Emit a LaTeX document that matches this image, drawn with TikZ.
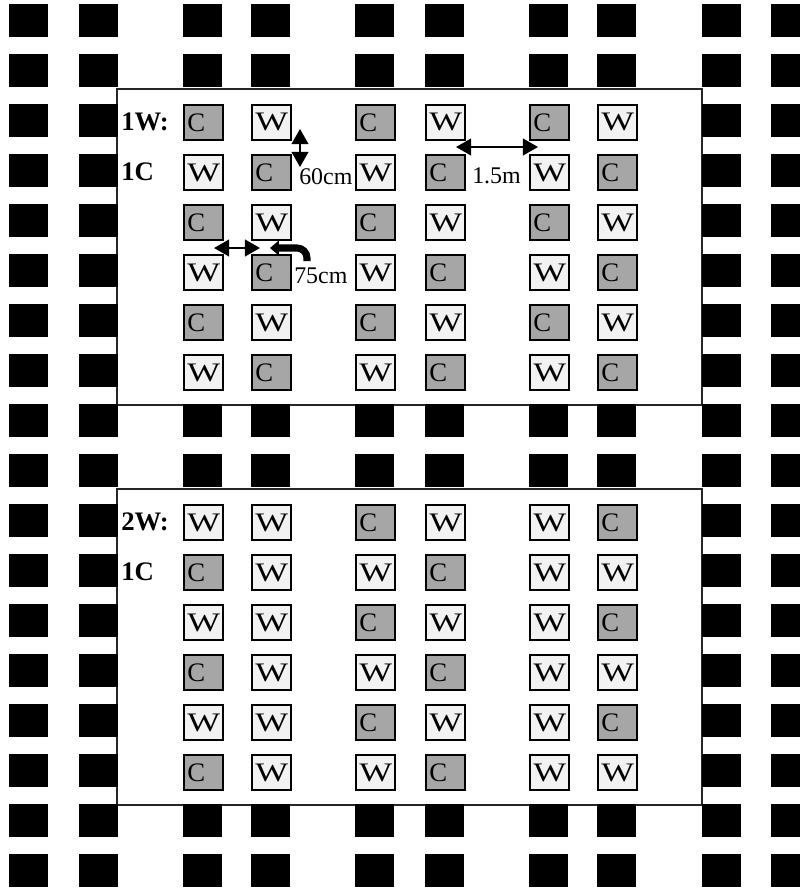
\documentclass[tikz,border=0pt]{standalone}
\usepackage{fontspec}
\usepackage{graphicx}
\setmainfont{Liberation Serif}
\usetikzlibrary{arrows.meta}
\definecolor{boxC}{RGB}{166,166,166}
\definecolor{boxW}{RGB}{242,242,242}

% wide W as printed in the plot boxes
\newcommand\plotletter[1]{\if#1W\scalebox{1.3}[1]{W}\else#1\fi}

\tikzset{
  plot box/.style={draw=black, line width=1.2pt, text width=0.795cm, align=left,
    minimum height=0.88cm, inner xsep=0.09cm, inner ysep=0pt,
    font=\fontsize{19}{22}\selectfont, anchor=north west},
  panel/.style={draw=black!85, line width=1pt, fill=white},
  dim arrow/.style={line width=1.4pt,
    {Triangle[length=0.38cm,width=0.42cm]}-{Triangle[length=0.38cm,width=0.42cm]}},
  dim label/.style={font=\fontsize{17}{20}\selectfont, anchor=west, inner sep=0pt},
  row label/.style={font=\fontsize{19}{22}\selectfont\bfseries, anchor=west, inner sep=0pt}
}

\begin{document}
\begin{tikzpicture}[x=0.025cm,y=-0.025cm]

\def\sqw{39}   % plant square width
\def\sqh{33}   % plant square height
\def\toptop{104}
\def\bottop{504}

\useasboundingbox (0,0) rectangle (800,890);
\clip (0,0) rectangle (800,890);

% --- Panels ---
\draw[panel] (117,89) rectangle (702,405);
\draw[panel] (117,489) rectangle (702,805);

% --- Black plant squares outside the panels ---
\foreach \bx [count=\c] in {9,79,183,251,355,425,529,597,702,771} {
  \foreach \r in {0,...,17} {
    \pgfmathtruncatemacro\inpanel{(\c>2)&&(\c<9)&&(((\r>1)&&(\r<8))||((\r>9)&&(\r<16)))}
    \pgfmathsetmacro\by{4+50*\r}
    \ifnum\inpanel=0
      \fill[black] (\bx,\by) rectangle (\bx+\sqw,\by+\sqh);
    \fi
  }
}

% --- Top panel: 1W:1C ---
\foreach \row [count=\r] in {{C,W,C,W,C,W},{W,C,W,C,W,C},{C,W,C,W,C,W},{W,C,W,C,W,C},{C,W,C,W,C,W},{W,C,W,C,W,C}} {
  \foreach \kind [count=\c] in \row {
    \pgfmathsetmacro\bx{{183,251,355,425,529,597}[\c-1]}
    \pgfmathsetmacro\by{\toptop+50*(\r-1)}
    \node[plot box, fill=box\kind] (t\r-\c) at (\bx,\by) {\plotletter{\kind}};
  }
}
\node[row label] (topW) at (121,122) {1W:};
\node[row label] (topC) at (121,172) {1C};

% --- Bottom panel: 2W:1C ---
\foreach \row [count=\r] in {{W,W,C,W,W,C},{C,W,W,C,W,W},{W,W,C,W,W,C},{C,W,W,C,W,W},{W,W,C,W,W,C},{C,W,W,C,W,W}} {
  \foreach \kind [count=\c] in \row {
    \pgfmathsetmacro\bx{{183,251,355,425,529,597}[\c-1]}
    \pgfmathsetmacro\by{\bottop+50*(\r-1)}
    \node[plot box, fill=box\kind] (b\r-\c) at (\bx,\by) {\plotletter{\kind}};
  }
}
\node[row label] (botW) at (121,522) {2W:};
\node[row label] (botC) at (121,572) {1C};

% --- Spacing annotations ---
\coordinate (rowgapA) at (300,129);
\coordinate (rowgapB) at (300,167);
\draw[dim arrow] (rowgapA) -- (rowgapB);
\node[dim label] (lab60) at (299,177) {60cm};

\coordinate (pairgapA) at (456,147);
\coordinate (pairgapB) at (538,147);
\draw[dim arrow] (pairgapA) -- (pairgapB);
\node[dim label] (lab15) at (472,176) {1.5m};

\coordinate (colgapA) at (214,248);
\coordinate (colgapB) at (260,248);
\draw[dim arrow] (colgapA) -- (colgapB);
\coordinate (pointS) at (307,261);
\coordinate (pointT) at (270,248);
\draw[line width=5pt, rounded corners=0.25cm, -{Triangle[length=0.22cm,width=0.36cm]}] (pointS) |- (pointT);
\node[dim label] (lab75) at (294,276) {75cm};

\end{tikzpicture}
\end{document}
